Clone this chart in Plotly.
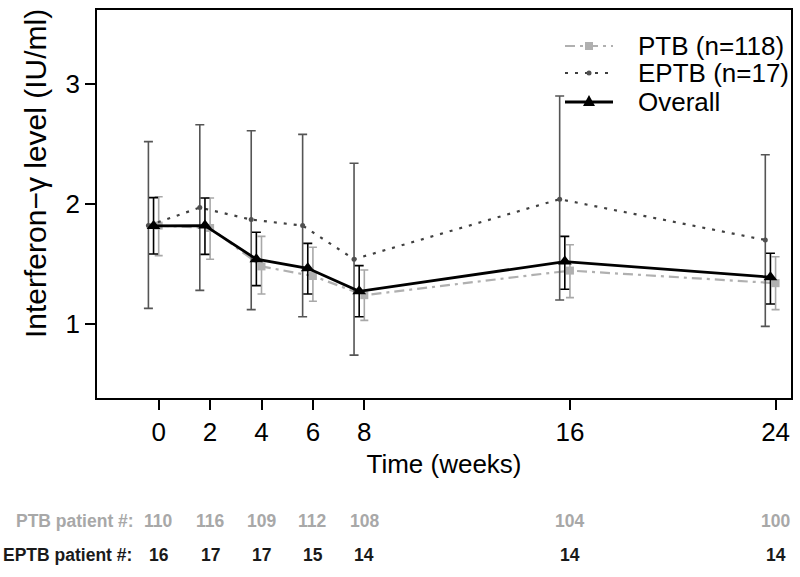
import plotly.graph_objects as go

weeks = [0, 2, 4, 6, 8, 16, 24]
tick_labels = ["0", "2", "4", "6", "8", "16", "24"]

ptb_mean = [1.82, 1.80, 1.48, 1.40, 1.24, 1.445, 1.34]
ptb_lo = [1.57, 1.54, 1.25, 1.19, 1.03, 1.22, 1.12]
ptb_hi = [2.06, 2.05, 1.73, 1.64, 1.45, 1.66, 1.56]

eptb_mean = [1.82, 1.97, 1.87, 1.82, 1.54, 2.04, 1.70]
eptb_lo = [1.13, 1.28, 1.12, 1.06, 0.74, 1.20, 0.98]
eptb_hi = [2.52, 2.66, 2.61, 2.58, 2.34, 2.90, 2.41]

all_mean = [1.817, 1.82, 1.54, 1.464, 1.272, 1.52, 1.39]
all_lo = [1.583, 1.58, 1.32, 1.25, 1.06, 1.289, 1.167]
all_hi = [2.053, 2.05, 1.764, 1.672, 1.486, 1.73, 1.59]

ptb_n = [110, 116, 109, 112, 108, 104, 100]
eptb_n = [16, 17, 17, 15, 14, 14, 14]

legend_names = ["PTB (n=118)", "EPTB (n=17)", "Overall"]

FONT = "Liberation Sans, Arial, sans-serif"

W, H = 800, 577
ML, MR, MT, MB = 97, 9, 10, 179
PW, PH = W - ML - MR, H - MT - MB


def px(xp):
    return (xp - ML) / PW


def py(yp):
    return (H - MB - yp) / PH


def err(mean, lo, hi):
    return dict(
        type="data", symmetric=False,
        array=[h - m for h, m in zip(hi, mean)],
        arrayminus=[m - l for m, l in zip(mean, lo)],
    )


PTB_C, EPTB_C, ALL_C = "#b0b0b0", "#404040", "#000000"
PTB_DASH, EPTB_DASH = "10px,5px,3px,5px", "3px,7px"

fig = go.Figure()

fig.add_trace(go.Scatter(
    x=weeks, y=ptb_mean, name=legend_names[0], mode="lines+markers",
    line=dict(color=PTB_C, width=2.2, dash=PTB_DASH),
    marker=dict(symbol="square", size=8, color=PTB_C),
    error_y=dict(**err(ptb_mean, ptb_lo, ptb_hi), color="#a8a8a8", thickness=1.6, width=4),
    showlegend=False,
))

fig.add_trace(go.Scatter(
    x=[w - 0.4 for w in weeks], y=eptb_mean, name=legend_names[1], mode="lines+markers",
    line=dict(color=EPTB_C, width=2.2, dash=EPTB_DASH),
    marker=dict(symbol="circle", size=5, color="#505050"),
    error_y=dict(**err(eptb_mean, eptb_lo, eptb_hi), color="#555555", thickness=1.6, width=4.5),
    showlegend=False,
))

fig.add_trace(go.Scatter(
    x=[w - 0.2 for w in weeks], y=all_mean, name=legend_names[2], mode="lines+markers",
    line=dict(color=ALL_C, width=2.8),
    marker=dict(symbol="triangle-up", size=12, color=ALL_C),
    error_y=dict(**err(all_mean, all_lo, all_hi), color="#000000", thickness=1.6, width=4.5),
    showlegend=False,
))

# manual legend (R-style, tight spacing)
shapes = []
annotations = []
leg_rows = [46, 73, 102]
lx0, lx1, ltx = 565, 613, 636
lmid = (lx0 + lx1) / 2
leg_styles = [
    dict(color=PTB_C, width=2.2, dash=PTB_DASH),
    dict(color=EPTB_C, width=2.2, dash=EPTB_DASH),
    dict(color=ALL_C, width=2.8),
]
for row, name, st in zip(leg_rows, legend_names, leg_styles):
    shapes.append(dict(type="line", xref="paper", yref="paper",
                       x0=px(lx0), x1=px(lx1), y0=py(row), y1=py(row), line=st))
    annotations.append(dict(text=name, xref="paper", yref="paper", x=px(ltx), y=py(row),
                            xanchor="left", yanchor="middle", showarrow=False,
                            font=dict(family=FONT, size=26, color="#000000")))
r = leg_rows[0]
shapes.append(dict(type="rect", xref="paper", yref="paper",
                   x0=px(lmid - 4), x1=px(lmid + 4), y0=py(r + 4), y1=py(r - 4),
                   fillcolor=PTB_C, line=dict(width=0)))
r = leg_rows[1]
shapes.append(dict(type="circle", xref="paper", yref="paper",
                   x0=px(lmid - 2.5), x1=px(lmid + 2.5), y0=py(r + 2.5), y1=py(r - 2.5),
                   fillcolor="#505050", line=dict(width=0)))
r = leg_rows[2]
shapes.append(dict(type="path", xref="paper", yref="paper",
                   path=f"M {px(lmid - 6)} {py(r + 4)} L {px(lmid + 6)} {py(r + 4)} L {px(lmid)} {py(r - 7)} Z",
                   fillcolor=ALL_C, line=dict(width=0)))

annotations.append(dict(text="Interferon\u2212\u03b3 level (IU/ml)", xref="paper", yref="paper",
                        x=px(35), y=py(174), textangle=-90, xanchor="center", yanchor="middle",
                        showarrow=False, font=dict(family=FONT, size=30, color="#000000")))

TBL = dict(family=FONT, size=17.5, weight="bold")
annotations += [
    dict(text="PTB patient #:", xref="paper", yref="paper", x=px(136), y=py(521),
         xanchor="right", yanchor="middle", showarrow=False,
         font=dict(**TBL, color="#a8a8a8")),
    dict(text="EPTB patient #:", xref="paper", yref="paper", x=px(134), y=py(555),
         xanchor="right", yanchor="middle", showarrow=False,
         font=dict(**TBL, color="#1a1a1a")),
]
for w, n in zip(weeks, ptb_n):
    annotations.append(dict(text=str(n), xref="x", yref="paper", x=w, y=py(521),
                            xanchor="center", yanchor="middle", showarrow=False,
                            font=dict(**TBL, color="#a8a8a8")))
for w, n in zip(weeks, eptb_n):
    annotations.append(dict(text=str(n), xref="x", yref="paper", x=w, y=py(555),
                            xanchor="center", yanchor="middle", showarrow=False,
                            font=dict(**TBL, color="#1a1a1a")))

fig.update_layout(
    width=W, height=H,
    margin=dict(l=ML, r=MR, t=MT, b=MB),
    paper_bgcolor="white", plot_bgcolor="white",
    font=dict(family=FONT, size=26, color="#000000"),
    showlegend=False,
    annotations=annotations,
    shapes=shapes,
)

fig.update_xaxes(
    range=[-2.4, 24.6], tickvals=weeks, ticktext=tick_labels,
    showgrid=False, zeroline=False, showline=True, mirror=True, automargin=False,
    linecolor="#000000", linewidth=1.5, ticks="outside", ticklen=10,
    tickwidth=1.5, tickcolor="#000000",
    title=dict(text="Time (weeks)", standoff=9, font=dict(size=26)),
)
fig.update_yaxes(
    range=[0.383, 3.617], tickvals=[1, 2, 3],
    showgrid=False, zeroline=False, showline=True, mirror=True, automargin=False,
    linecolor="#000000", linewidth=1.5, ticks="outside", ticklen=10,
    tickwidth=1.5, tickcolor="#000000",
)

fig.write_html(
    "out.html",
    config={"displayModeBar": False},
    post_script="document.body.style.margin='0px';document.body.style.overflow='hidden';",
)
